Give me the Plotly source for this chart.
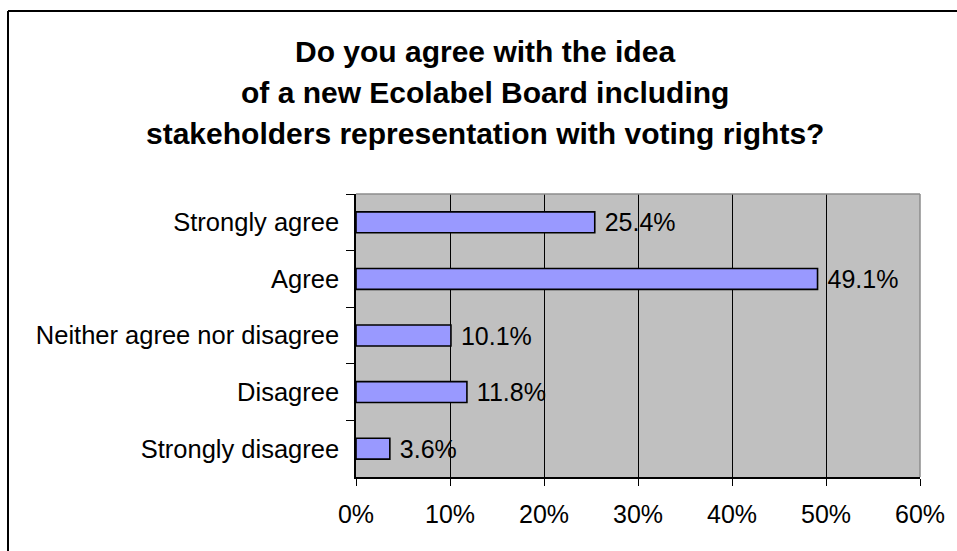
import plotly.graph_objects as go

# Survey answers, top to bottom as listed on the chart
categories = [
    "Strongly agree",
    "Agree",
    "Neither agree nor disagree",
    "Disagree",
    "Strongly disagree",
]
shares = [25.4, 49.1, 10.1, 11.8, 3.6]  # percent of respondents
x_ticks = [0, 10, 20, 30, 40, 50, 60]

title_lines = [
    "Do you agree with the idea",
    "of a new Ecolabel Board including",
    "stakeholders representation with voting rights?",
]

FONT = "Liberation Sans, Arial, sans-serif"

W, H = 957, 551
L, R, T, B = 356, 37, 194, 74
pw, ph = W - L - R, H - T - B


def px(x):
    return (x - L) / pw


def py(y):
    return (H - B - y) / ph


fig = go.Figure()
fig.add_trace(go.Bar(
    x=shares,
    y=categories,
    orientation="h",
    width=0.37,
    marker=dict(color="#9999FF", line=dict(color="black", width=1.6)),
    texttemplate=" %{x:.1f}%",
    textposition="outside",
    constraintext="none",
    textfont=dict(family=FONT, size=25, color="black"),
    cliponaxis=False,
))

# three-line bold heading, one annotation per line for even spacing
title_centers = [51, 92, 133]
annotations = [
    dict(text=line, xref="paper", yref="paper", x=px(485), y=py(cy),
         xanchor="center", yanchor="middle", showarrow=False,
         font=dict(family=FONT, size=30, color="black", weight="bold"))
    for line, cy in zip(title_lines, title_centers)
]

fig.update_layout(
    width=W,
    height=H,
    margin=dict(l=L, r=R, t=T, b=B),
    paper_bgcolor="white",
    plot_bgcolor="#C0C0C0",
    showlegend=False,
    annotations=annotations,
    xaxis=dict(
        range=[0, 60],
        tickvals=x_ticks,
        ticktext=[f"{v}%" for v in x_ticks],
        showgrid=True,
        gridcolor="black",
        gridwidth=1,
        zeroline=False,
        showline=True,
        linecolor="black",
        linewidth=1.5,
        ticks="outside",
        ticklen=7,
        tickcolor="black",
        tickfont=dict(family=FONT, size=25, color="black"),
        ticklabelstandoff=7,
    ),
    yaxis=dict(
        categoryorder="array",
        categoryarray=categories,
        autorange="reversed",
        showgrid=False,
        zeroline=False,
        showline=True,
        linecolor="black",
        linewidth=1.5,
        ticks="outside",
        tickson="boundaries",
        ticklen=8,
        tickcolor="black",
        tickfont=dict(family=FONT, size=25.5, color="black"),
        ticklabelstandoff=10,
    ),
    shapes=[
        # grey frame on the top and right of the plotting area
        dict(type="line", xref="paper", yref="paper", x0=0, x1=1, y0=1, y1=1,
             line=dict(color="#8C8C8C", width=1.5), layer="above"),
        dict(type="line", xref="paper", yref="paper", x0=1, x1=1, y0=0, y1=1,
             line=dict(color="#8C8C8C", width=1.5), layer="above"),
        # outer chart border (left and top edges)
        dict(type="line", xref="paper", yref="paper",
             x0=px(8), x1=px(W + 5), y0=py(11), y1=py(11),
             line=dict(color="black", width=2)),
        dict(type="line", xref="paper", yref="paper",
             x0=px(8), x1=px(8), y0=py(11), y1=py(H + 5),
             line=dict(color="black", width=2)),
    ],
)

fig.write_html("out.html")
